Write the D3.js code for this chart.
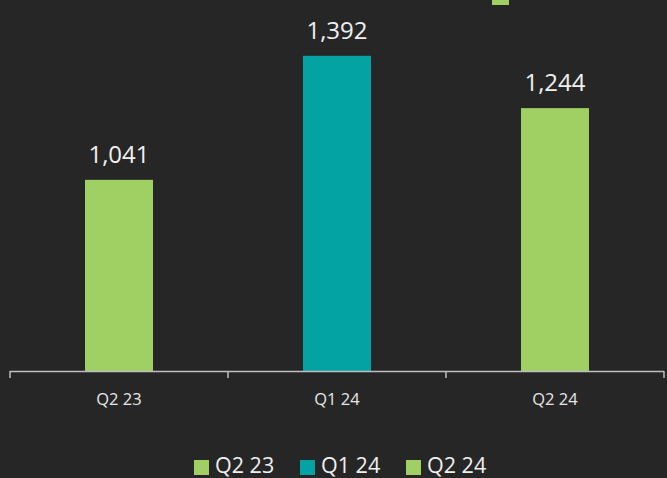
<!DOCTYPE html>
<html>
<head>
<meta charset="utf-8">
<script src="https://cdn.jsdelivr.net/npm/d3@7"></script>
<style>
  html, body { margin: 0; padding: 0; background: #262626; }
  svg { display: block; }
  text { font-family: "Open Sans", "Noto Sans", sans-serif; }
</style>
</head>
<body>
<svg id="chart" width="667" height="478"></svg>
<script>
// Quarterly values
const categories = ["Q2 23", "Q1 24", "Q2 24"];
const values = [1041, 1392, 1244];
const colors = ["#a0cf63", "#03a3a3", "#a0cf63"];
const legendLabels = ["Q2 23", "Q1 24", "Q2 24"];

const W = 667, H = 478;
const svg = d3.select("#chart");
svg.append("rect").attr("width", W).attr("height", H).attr("fill", "#262626");

const baseY = 371;
const x = d3.scaleBand().domain(categories).range([10, 664]).paddingInner(0).paddingOuter(0);
const y = d3.scaleLinear().domain([500, 1550]).range([baseY, 0]);
const barW = 68;

// Bars
svg.selectAll("rect.bar").data(categories).join("rect")
  .attr("class", "bar")
  .attr("x", d => x(d) + x.bandwidth() / 2 - barW / 2)
  .attr("width", barW)
  .attr("y", (d, i) => y(values[i]))
  .attr("height", (d, i) => baseY - y(values[i]))
  .attr("fill", (d, i) => colors[i]);

// Value labels
const fmt = d3.format(",");
svg.selectAll("text.val").data(categories).join("text")
  .attr("class", "val")
  .attr("x", d => x(d) + x.bandwidth() / 2)
  .attr("y", (d, i) => y(values[i]) - 17)
  .attr("text-anchor", "middle")
  .attr("font-size", 24)
  .attr("fill", "#f0f0f0")
  .text((d, i) => fmt(values[i]));

// Category axis with ticks at band edges
const axisG = svg.append("g");
axisG.append("line")
  .attr("x1", x.range()[0]).attr("x2", x.range()[1])
  .attr("y1", baseY + 0.5).attr("y2", baseY + 0.5)
  .attr("stroke", "#bfbfbf").attr("stroke-width", 1.5);
const edges = categories.map(d => x(d)).concat([x.range()[1]]);
axisG.selectAll("line.tick").data(edges).join("line")
  .attr("class", "tick")
  .attr("x1", d => d).attr("x2", d => d)
  .attr("y1", baseY).attr("y2", baseY + 7)
  .attr("stroke", "#bfbfbf").attr("stroke-width", 1.5);
axisG.selectAll("text").data(categories).join("text")
  .attr("x", d => x(d) + x.bandwidth() / 2)
  .attr("y", 405)
  .attr("text-anchor", "middle")
  .attr("font-size", 16.5)
  .attr("fill", "#e6e6e6")
  .text(d => d);

// Clipped legend marker at the top edge
svg.append("rect")
  .attr("x", 492).attr("y", -10).attr("width", 17).attr("height", 15)
  .attr("fill", colors[0]);

// Legend
const legendX = [194, 300, 406];
const lg = svg.append("g");
legendLabels.forEach((lab, i) => {
  lg.append("rect")
    .attr("x", legendX[i]).attr("y", 460).attr("width", 15).attr("height", 15)
    .attr("fill", colors[i]);
  lg.append("text")
    .attr("x", legendX[i] + 21).attr("y", 472.5)
    .attr("font-size", 21.5)
    .attr("fill", "#f0f0f0")
    .text(lab);
});
</script>
</body>
</html>
